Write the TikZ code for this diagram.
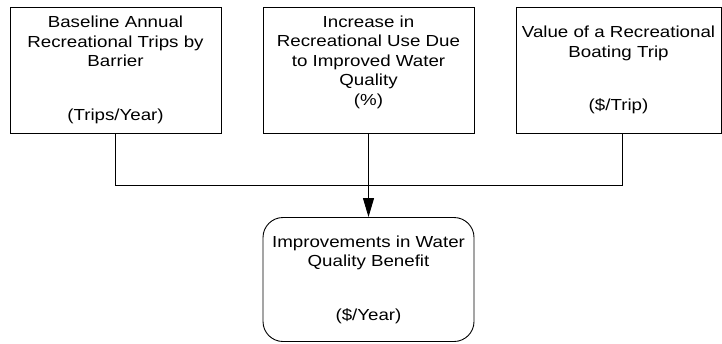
\documentclass[tikz,border=0pt]{standalone}
\usepackage{fontspec}
\setmainfont[FakeStretch=1.17]{Liberation Sans}
\usetikzlibrary{arrows.meta}
\begin{document}
\begin{tikzpicture}[x=1pt,y=-1pt,
  box/.style={draw=black, line width=0.9pt, inner sep=0pt, align=center,
    font=\fontsize{16}{19.5}\selectfont},
  link/.style={draw=black, line width=0.9pt}]
\useasboundingbox (0,0) rectangle (722,343);
\fill[white] (0,0) rectangle (722,343);
\node[box, minimum width=211pt, minimum height=126pt] (b1) at (115.5,70)
  {Baseline Annual\\Recreational Trips by\\Barrier\\[34pt](Trips/Year)};
\node[box, minimum width=211pt, minimum height=126pt] (b2) at (368.5,70)
  {Increase in\\Recreational Use Due\\to Improved Water\\Quality\\(\%)\\\mbox{}};
\node[box, minimum width=205pt, minimum height=126pt] (b3) at (618.5,70)
  {Value of a Recreational\\Boating Trip\\[34pt](\$/Trip)};
\node[box, rounded corners=20pt, minimum width=211pt, minimum height=124pt] (b4) at (368.5,279.5)
  {Improvements in Water\\Quality Benefit\\[34pt](\$/Year)};
\coordinate (j) at (368.5,185);
\draw[link] (b1.south) |- (j);
\draw[link] ([xshift=3.5pt]b3.south) |- (j);
\draw[link, -{Triangle[length=19pt,width=11pt]}] (b2.south) -- (b4.north);
\end{tikzpicture}
\end{document}
